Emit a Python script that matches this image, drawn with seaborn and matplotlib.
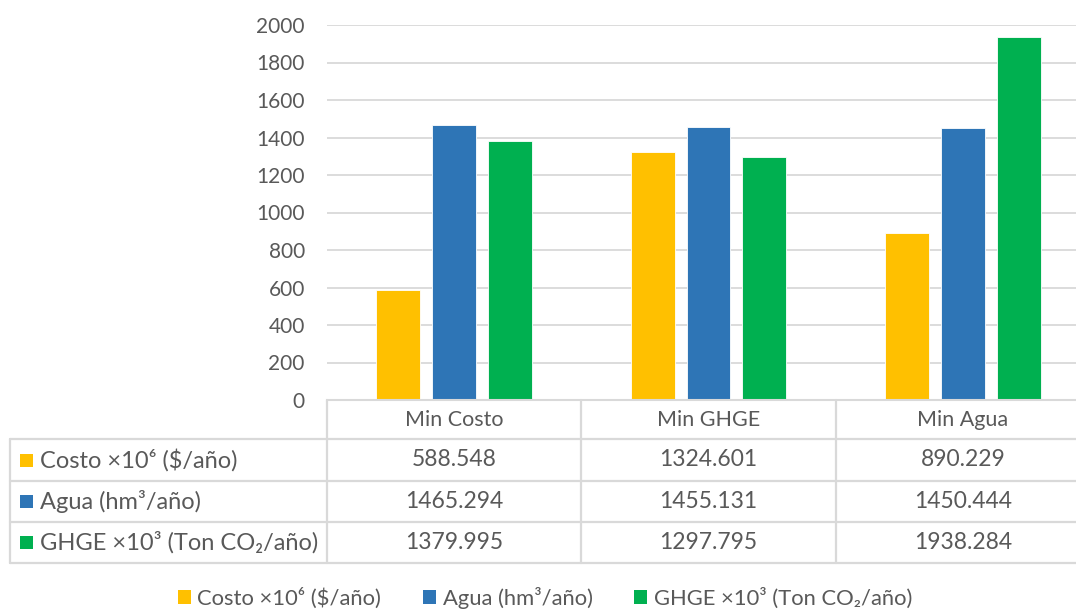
import numpy as np
import pandas as pd
import matplotlib
matplotlib.use("Agg")
import matplotlib.pyplot as plt
import seaborn as sns
from matplotlib.patches import Patch, Rectangle
from matplotlib import transforms

# Scenario results: cost, water use and greenhouse-gas emissions
scenarios = ["Min Costo", "Min GHGE", "Min Agua"]
series_names = ["Costo ×10⁶ ($/año)", "Agua (hm³/año)", "GHGE ×10³ (Ton CO₂/año)"]
costo = [588.548, 1324.601, 890.229]
agua = [1465.294, 1455.131, 1450.444]
ghge = [1379.995, 1297.795, 1938.284]
y_ticks = [0, 200, 400, 600, 800, 1000, 1200, 1400, 1600, 1800, 2000]
value_labels = [["588.548", "1324.601", "890.229"],
                ["1465.294", "1455.131", "1450.444"],
                ["1379.995", "1297.795", "1938.284"]]
colors = ["#FFC000", "#2E75B6", "#00B050"]

df = pd.DataFrame({
    "Escenario": scenarios * 3,
    "Serie": np.repeat(series_names, len(scenarios)),
    "Valor": costo + agua + ghge,
})

sns.set_theme(style="white")
plt.rcParams["font.family"] = ["Lato", "DejaVu Sans"]
TXT = "#595959"
GRID = "#D9D9D9"

W, H = 1076, 610
fig = plt.figure(figsize=(W / 100, H / 100), dpi=100)

# Plot area (extends slightly past the right edge of the canvas)
left, right, top, bottom = 327, 1090, 25, 400
ax = fig.add_axes([left / W, 1 - bottom / H, (right - left) / W, (bottom - top) / H])
sns.barplot(data=df, x="Escenario", y="Valor", hue="Serie", order=scenarios,
            hue_order=series_names, palette=colors, saturation=1,
            width=0.66, gap=0.214, legend=False, ax=ax,
            edgecolor="white", linewidth=0.6)
ax.set_xlim(-0.5, 2.5)
ax.set_ylim(0, 2000)
ax.set_yticks(y_ticks)
ax.yaxis.grid(True, color=GRID, lw=1.3)
ax.set_axisbelow(True)
for s in ["top", "right", "left"]:
    ax.spines[s].set_visible(False)
ax.spines["bottom"].set_color(GRID)
ax.spines["bottom"].set_linewidth(1.5)
ax.set_xticks([])
ax.set_xlabel("")
ax.set_ylabel("")
ax.tick_params(axis="y", length=0, labelsize=15, colors=TXT, pad=16)

# Overlay in pixel coordinates for the data table
tab = fig.add_axes([0, 0, 1, 1], zorder=3)
tab.set_xlim(0, W)
tab.set_ylim(H, 0)
tab.axis("off")
cat_px = transforms.blended_transform_factory(ax.transData, tab.transData)

row_lines = [439, 481, 522, 563]
lw = 1.6
for yl in row_lines:
    tab.plot([10, W + 20], [yl, yl], color=GRID, lw=lw, clip_on=False)
tab.plot([10, 10], [439, 563], color=GRID, lw=lw)
for xb in [-0.5, 0.5, 1.5, 2.5]:
    tab.plot([xb, xb], [bottom, 563], color=GRID, lw=lw, transform=cat_px, clip_on=False)

# Header row with scenario names
for i, name in enumerate(scenarios):
    tab.text(i, (bottom + 439) / 2, name, transform=cat_px, ha="center",
             va="center", fontsize=15.5, color=TXT)

# Series rows: legend key, name, values
for r, (name, col) in enumerate(zip(series_names, colors)):
    yc = (row_lines[r] + row_lines[r + 1]) / 2
    tab.add_patch(Rectangle((20, yc - 6.5), 13, 13, facecolor=col, edgecolor="none"))
    tab.text(40, yc, name, ha="left", va="center", fontsize=17, color=TXT)
    for i in range(len(scenarios)):
        tab.text(i, yc, value_labels[r][i], transform=cat_px, ha="center",
                 va="center", fontsize=16.5, color=TXT)

# Legend below the table
handles = [Patch(facecolor=c, edgecolor="none", label=n) for n, c in zip(series_names, colors)]
fig.legend(handles=handles, loc="center", bbox_to_anchor=(545 / W, 1 - 598 / H),
           ncol=3, frameon=False, fontsize=15.8, labelcolor=TXT,
           handlelength=0.6, handleheight=0.6, handletextpad=0.3,
           columnspacing=1.9, borderpad=0)

fig.savefig("out.png", dpi=100)
